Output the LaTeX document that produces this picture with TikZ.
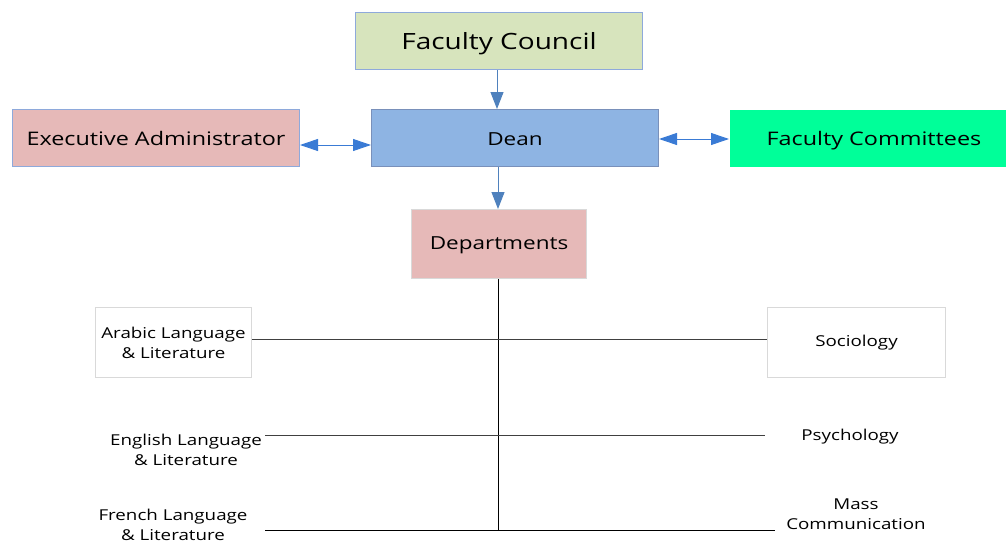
\documentclass[tikz,border=0pt]{standalone}
\usepackage{fontspec}
\setmainfont{Open Sans}[FakeStretch=1.25]
\usetikzlibrary{arrows.meta}
\definecolor{fcgreen}{HTML}{D7E4BD}
\definecolor{pinkbox}{HTML}{E6B9B8}
\definecolor{deanblue}{HTML}{8EB4E3}
\definecolor{bordblue}{HTML}{8EA9DB}
\definecolor{commgreen}{HTML}{00FF99}
\definecolor{arrblue}{HTML}{4F81BD}
\definecolor{darrblue}{HTML}{3A7BD5}
\definecolor{greyb}{HTML}{D9D9D9}
\tikzset{
  x=1pt, y=-1pt,
  bigbox/.style={draw=bordblue, line width=1pt, inner sep=0pt, anchor=north west},
  bigtxt/.style={font=\fontsize{18.7}{22}\selectfont},
  midtxt/.style={font=\fontsize{18}{22}\selectfont},
  smalltxt/.style={font=\fontsize{15}{20}\selectfont, align=center, inner sep=0pt},
  downarrow/.style={draw=arrblue, line width=1pt, -{Triangle[length=17pt,width=13pt]}},
  dblarrow/.style={draw=darrblue, line width=1pt, {Triangle[length=18pt,width=12pt]}-{Triangle[length=18pt,width=12pt]}},
  trunk/.style={draw=black, line width=1pt},
  branch/.style={draw=black!75, line width=0.9pt},
}
\begin{document}
\begin{tikzpicture}
\useasboundingbox (0,0) rectangle (1006,543);
% top boxes
\node[bigbox, fill=fcgreen, minimum width=287pt, minimum height=57pt] (fc) at (355,12) {};
\node[font=\fontsize{22.4}{26}\selectfont] at ([yshift=-2.5pt]fc.center) {Faculty Council};
\node[bigbox, fill=pinkbox, minimum width=287pt, minimum height=57pt] (ea) at (12,109) {};
\node[bigtxt] at (ea.center) {Executive Administrator};
\node[bigbox, fill=deanblue, draw=bordblue!85!black, minimum width=287pt, minimum height=57pt] (dean) at (371,109) {};
\node[midtxt] at ([yshift=-1pt]dean.center) {Dean};
\node[bigbox, fill=commgreen, draw=none, minimum width=277pt, minimum height=57pt] (fcom) at (729,109) {};
\node[bigtxt] at ([xshift=6pt,yshift=-2.5pt]fcom.center) {Faculty Committees};
\node[bigbox, fill=pinkbox, draw=greyb, minimum width=175pt, minimum height=69pt] (dep) at (411,209) {};
\node[midtxt] at ([yshift=-1pt]dep.center) {Departments};
% arrows
\draw[downarrow] (fc.south -| 497,0) -- (dean.north -| 497,0);
\draw[downarrow] (dean.south -| 498,0) -- (dep.north -| 498,0);
\draw[dblarrow] (ea.east |- 0,145) -- (dean.west |- 0,145);
\draw[dblarrow] (dean.east |- 0,139) -- (fcom.west |- 0,139);
% departments
\node[bigbox, draw=greyb, fill=white, minimum width=156pt, minimum height=70pt] (ar) at (95,307) {};
\node[smalltxt] at (ar.center) {Arabic Language\\\& Literature};
\node[bigbox, draw=greyb, fill=white, minimum width=178pt, minimum height=70pt] (soc) at (767,307) {};
\node[smalltxt] at (soc.center) {Sociology};
\node[smalltxt] (en) at (186,450) {English Language\\\& Literature};
\node[smalltxt] (ps) at (850,437) {Psychology};
\node[smalltxt] (fr) at (173,525) {French Language\\\& Literature};
\node[smalltxt] (mc) at (856,514) {Mass\\Communication};
\coordinate (bot) at (498,530);
\coordinate (enR) at (265,435);
\coordinate (psL) at (765,435);
\coordinate (frR) at (265,530);
\coordinate (mcL) at (775,530);
\draw[trunk] (dep.south -| bot) -- (bot);
\draw[branch] (ar.east |- 0,339) -- (soc.west |- 0,339);
\draw[branch] (enR) -- (psL);
\draw[trunk] (frR) -- (mcL);
\end{tikzpicture}
\end{document}
